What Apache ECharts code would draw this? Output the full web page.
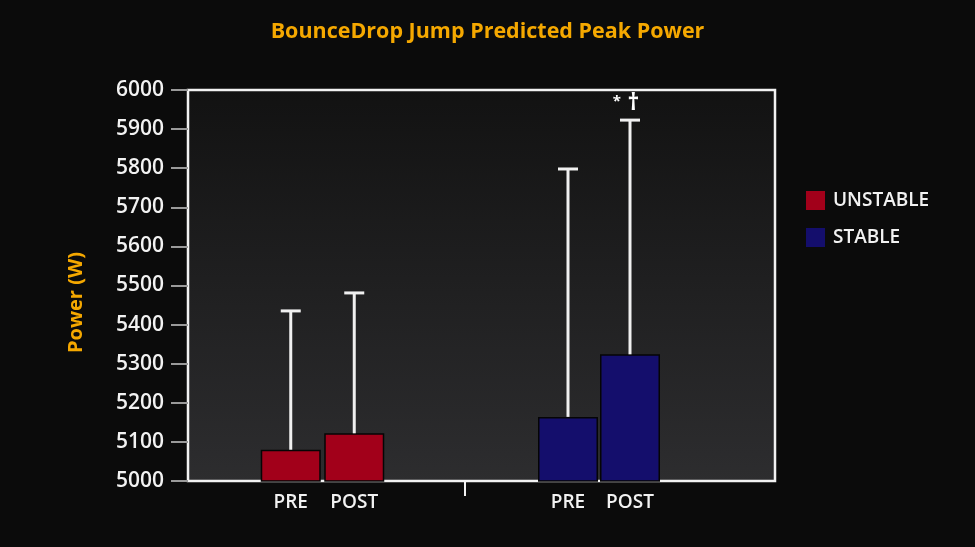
<!DOCTYPE html>
<html>
<head>
<meta charset="utf-8">
<title>BounceDrop Jump Predicted Peak Power</title>
<script src="https://cdn.jsdelivr.net/npm/echarts@6/dist/echarts.min.js"></script>
<style>
  html, body { margin: 0; padding: 0; background: #0b0b0b; }
  #chart { width: 975px; height: 547px; }
</style>
</head>
<body>
<div id="chart"></div>
<script>
// data
const phases = ['PRE', 'POST'];
const groups = ['UNSTABLE', 'STABLE'];
const unstableMean = [5080, 5122];
const unstableUpper = [5435, 5481];
const stableMean = [5164, 5324];
const stableUpper = [5798, 5923];
const stableMarks = ['', '* †'];
const yTicks = { min: 5000, max: 6000, step: 100 };

const RED = '#a2001a';
const BLUE = '#140e6c';
const ORANGE = '#f5a800';
const FONT = '"Open Sans", "Noto Sans", sans-serif';

const myChart = echarts.init(document.getElementById('chart'));

function errorBars(mean, upper, marks) {
  return mean.map((m, i) => [i, m, upper[i], marks ? marks[i] : '']);
}

function renderWhisker(params, api) {
  const base = api.coord([api.value(0), api.value(1)]);
  const top = api.coord([api.value(0), api.value(2)]);
  const stroke = { stroke: '#f0f0f0', lineWidth: 3 };
  const kids = [
    { type: 'line', shape: { x1: base[0], y1: base[1], x2: top[0], y2: top[1] }, style: stroke },
    { type: 'line', shape: { x1: top[0] - 10, y1: top[1], x2: top[0] + 10, y2: top[1] }, style: stroke }
  ];
  const mark = api.value(3);
  if (mark) {
    const [star, dagger] = mark.split(' ');
    kids.push({
      type: 'text',
      x: top[0] - 4,
      y: top[1] - 5,
      style: {
        text: '{s|' + star + '}  {d|' + dagger + '}',
        align: 'center',
        verticalAlign: 'bottom',
        rich: {
          s: { fill: '#ffffff', fontSize: 15, fontWeight: 'bold', fontFamily: FONT, padding: [0, 0, 4, 0] },
          d: { fill: '#ffffff', fontSize: 23, fontWeight: 'bold', fontFamily: FONT }
        }
      }
    });
  }
  return { type: 'group', children: kids };
}

const catAxis = (gridIndex) => ({
  type: 'category',
  gridIndex,
  data: phases,
  axisLine: { show: false },
  axisTick: { show: false },
  axisLabel: { interval: 0, color: '#f2f2f2', fontSize: 19, fontWeight: 600, fontFamily: FONT, margin: 12 }
});
const hiddenY = (gridIndex) => ({
  type: 'value', gridIndex, min: yTicks.min, max: yTicks.max, show: false
});

myChart.setOption({
  backgroundColor: '#0b0b0b',
  animation: false,
  title: {
    text: 'BounceDrop Jump Predicted Peak Power',
    left: 'center',
    top: 16,
    textStyle: { color: ORANGE, fontSize: 21.5, fontWeight: 'bold', fontFamily: FONT }
  },
  legend: {
    data: groups,
    orient: 'vertical',
    left: 806,
    top: 191,
    padding: 0,
    itemWidth: 19,
    itemHeight: 19,
    itemGap: 18,
    icon: 'rect',
    itemStyle: { borderWidth: 0 },
    textStyle: { color: '#f2f2f2', fontSize: 19, fontWeight: 600, fontFamily: FONT, padding: [0, 0, 0, 3] }
  },
  grid: [
    // frame around the whole plot
    {
      left: 188, right: 200, top: 90, bottom: 66, show: true,
      borderColor: '#f2f2f2', borderWidth: 2.5,
      backgroundColor: new echarts.graphic.LinearGradient(0, 0, 0, 1, [
        { offset: 0, color: '#121212' },
        { offset: 1, color: '#2d2d2f' }
      ])
    },
    { left: 259, right: 589, top: 90, bottom: 66 },
    { left: 537, right: 314, top: 90, bottom: 66 }
  ],
  xAxis: [
    {
      type: 'value', gridIndex: 0, min: 0, max: 1,
      axisLine: { show: false },
      axisLabel: { show: false },
      splitLine: { show: false },
      // single divider tick between the two groups
      axisTick: { show: true, length: 15, customValues: [0.472], lineStyle: { color: '#f2f2f2', width: 2 } }
    },
    catAxis(1),
    catAxis(2)
  ],
  yAxis: [
    {
      type: 'value', gridIndex: 0,
      min: yTicks.min, max: yTicks.max, interval: yTicks.step,
      name: 'Power (W)',
      nameLocation: 'middle',
      nameGap: 102,
      nameTextStyle: { color: ORANGE, fontSize: 20, fontWeight: 'bold', fontFamily: FONT, padding: [0, 34, 0, 0] },
      axisLine: { show: false },
      splitLine: { show: false },
      axisTick: { show: true, length: 17, lineStyle: { color: '#9a9a9a', width: 2 } },
      axisLabel: {
        color: '#f2f2f2', fontSize: 21, fontWeight: 600, fontFamily: FONT, margin: 24,
        formatter: (v) => String(v)
      }
    },
    hiddenY(1),
    hiddenY(2)
  ],
  series: [
    {
      name: 'UNSTABLE', type: 'bar', xAxisIndex: 1, yAxisIndex: 1,
      data: unstableMean, barWidth: 60,
      itemStyle: { color: RED, borderColor: '#050505', borderWidth: 1.5 }
    },
    {
      name: 'STABLE', type: 'bar', xAxisIndex: 2, yAxisIndex: 2,
      data: stableMean, barWidth: 60,
      itemStyle: { color: BLUE, borderColor: '#050505', borderWidth: 1.5 }
    },
    {
      name: 'unstable error', type: 'custom', xAxisIndex: 1, yAxisIndex: 1, z: 5,
      data: errorBars(unstableMean, unstableUpper), renderItem: renderWhisker
    },
    {
      name: 'stable error', type: 'custom', xAxisIndex: 2, yAxisIndex: 2, z: 5,
      data: errorBars(stableMean, stableUpper, stableMarks), renderItem: renderWhisker
    }
  ]
});
</script>
</body>
</html>
